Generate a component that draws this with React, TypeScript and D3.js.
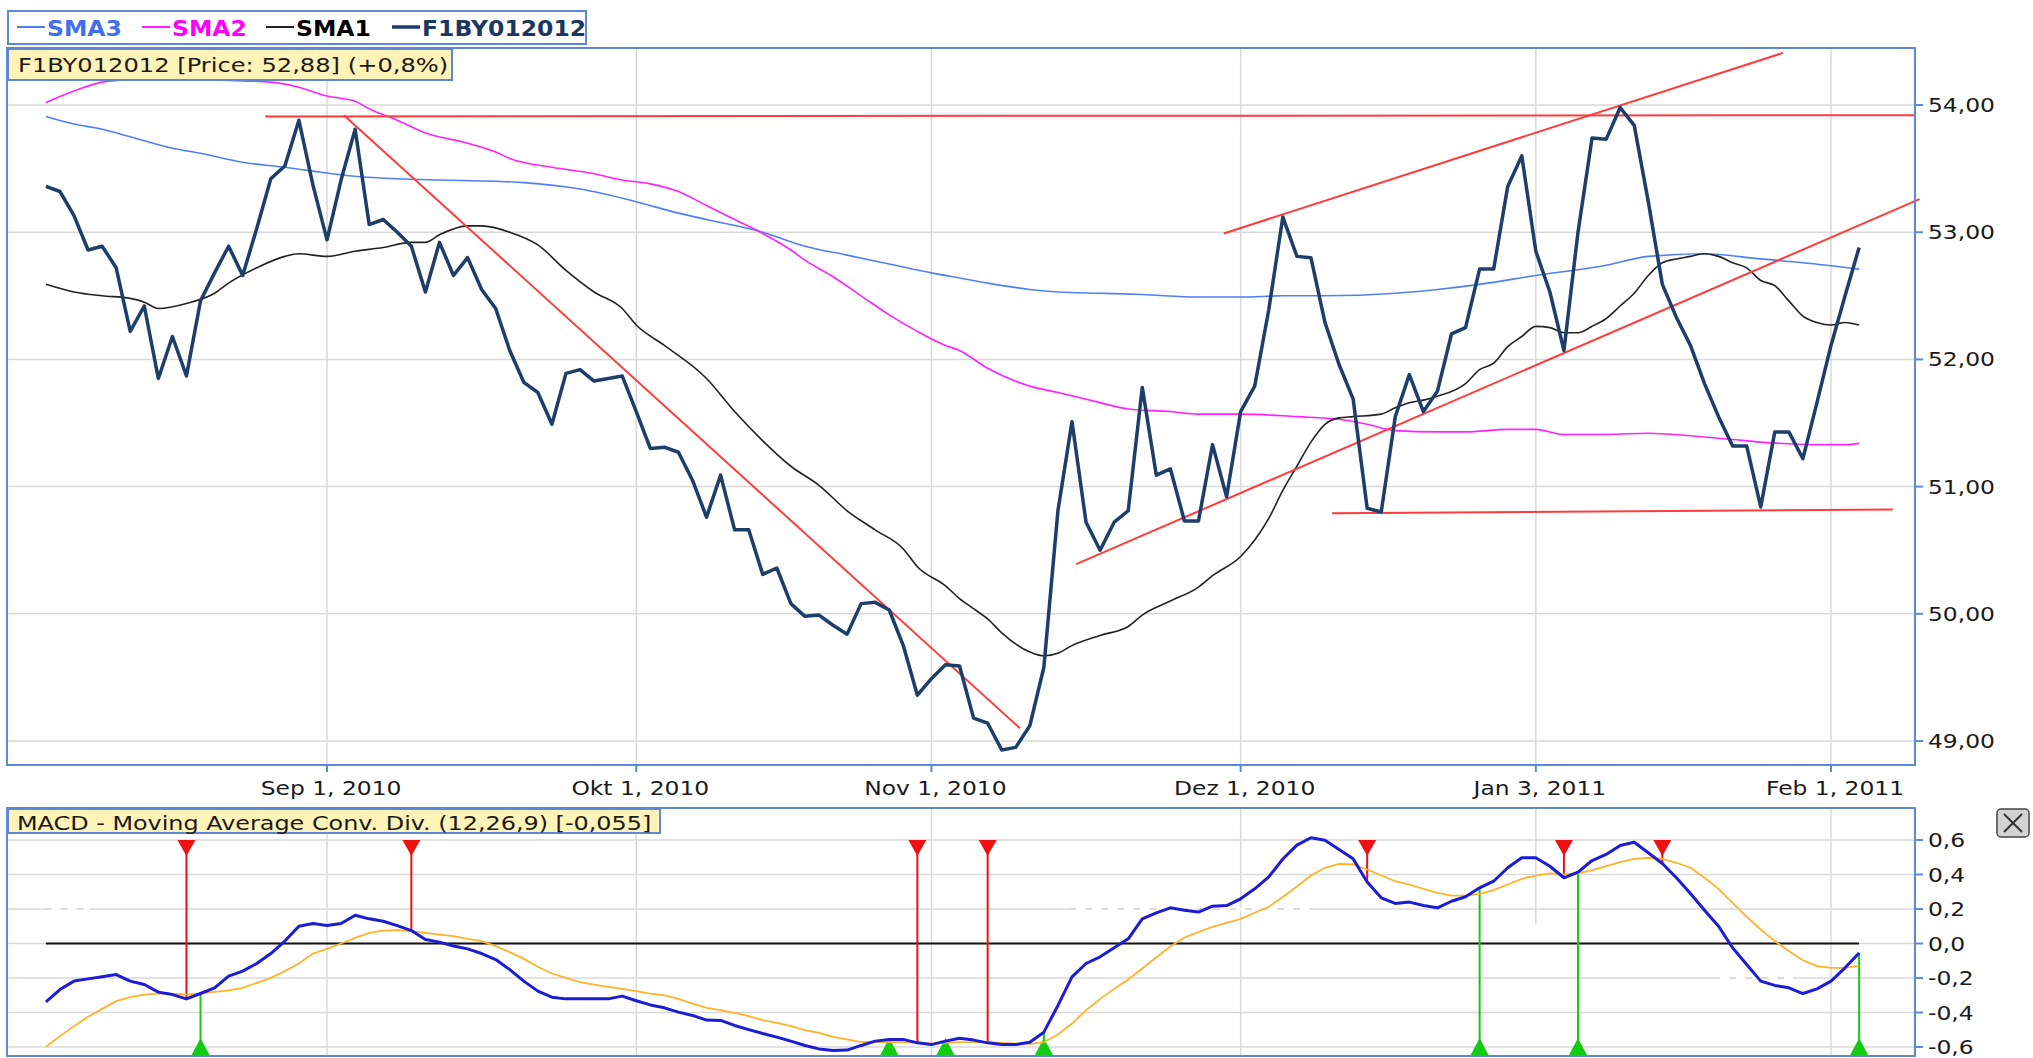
import React from 'react'
import * as d3 from 'd3'

// daily closes, one per trading day (index 0 = first day shown)
const price = [
  53.36, 53.32, 53.13, 52.86, 52.89, 52.72, 52.22, 52.42, 51.85, 52.18,
  51.87, 52.46, 52.68, 52.89, 52.66, 53.03, 53.42, 53.52, 53.88, 53.37,
  52.94, 53.41, 53.81, 53.06, 53.1, 53.0, 52.89, 52.53, 52.92, 52.66,
  52.8, 52.55, 52.4, 52.07, 51.82, 51.74, 51.49, 51.89, 51.92, 51.83,
  51.85, 51.87, 51.59, 51.3, 51.31, 51.27, 51.05, 50.76, 51.09, 50.66,
  50.66, 50.31, 50.36, 50.08, 49.98, 49.99, 49.91, 49.84, 50.08, 50.09,
  50.03, 49.75, 49.36, 49.49, 49.6, 49.59, 49.18, 49.14, 48.93, 48.95,
  49.12, 49.58, 50.81, 51.51, 50.72, 50.5, 50.72, 50.81, 51.78, 51.09,
  51.14, 50.73, 50.73, 51.33, 50.92, 51.59, 51.79, 52.39, 53.12, 52.81,
  52.8, 52.29, 51.96, 51.69, 50.83, 50.8, 51.55, 51.88, 51.59, 51.75,
  52.2, 52.25, 52.71, 52.71, 53.36, 53.6, 52.85, 52.53, 52.07, 53.0,
  53.74, 53.73, 53.98, 53.84, 53.24, 52.59, 52.33, 52.11, 51.81, 51.55,
  51.32, 51.32, 50.84, 51.43, 51.43, 51.22, 51.66, 52.11, 52.5, 52.88,
]

const sma1Days = [0, 2, 4, 6, 7, 8, 10, 12, 13, 15, 17, 18, 20, 22, 24, 26, 27, 28, 30, 31, 33, 35, 37, 39, 41, 42, 44, 47, 49, 51, 53, 55, 57, 59, 61, 62, 64, 65, 66, 67, 68, 70, 71, 72, 73, 75, 77, 78, 80, 82, 83, 85, 86, 87, 88, 89, 90, 91, 92, 93, 95, 96, 97, 98, 99, 101, 102, 103, 104, 105, 106, 107, 108, 109, 110, 111, 112, 113, 114, 115, 116, 117, 118, 119, 120, 121, 122, 123, 124, 125, 126, 127, 128, 129]
const sma1Vals = [52.59, 52.53, 52.5, 52.48, 52.45, 52.4, 52.44, 52.52, 52.6, 52.72, 52.81, 52.83, 52.81, 52.85, 52.88, 52.92, 52.92, 52.98, 53.05, 53.05, 53.0, 52.9, 52.7, 52.53, 52.4, 52.27, 52.11, 51.85, 51.59, 51.36, 51.16, 51.01, 50.81, 50.66, 50.51, 50.37, 50.22, 50.12, 50.04, 49.96, 49.85, 49.7, 49.67, 49.69, 49.75, 49.83, 49.9, 49.99, 50.1, 50.21, 50.3, 50.45, 50.58, 50.75, 50.97, 51.16, 51.35, 51.49, 51.54, 51.55, 51.57, 51.62, 51.66, 51.68, 51.71, 51.81, 51.92, 51.97, 52.1, 52.18, 52.26, 52.25, 52.21, 52.21, 52.26, 52.32, 52.42, 52.52, 52.66, 52.76, 52.79, 52.81, 52.83, 52.81, 52.76, 52.72, 52.62, 52.58, 52.46, 52.34, 52.29, 52.27, 52.29, 52.27]

const sma2Days = [0, 2, 4, 6, 9, 11, 14, 16, 18, 20, 22, 23, 25, 27, 30, 32, 33, 36, 39, 41, 43, 45, 47, 49, 51, 53, 54, 56, 58, 60, 62, 64, 65, 67, 70, 72, 75, 77, 80, 82, 85, 89, 92, 94, 96, 99, 101, 104, 106, 108, 111, 114, 117, 120, 122, 126, 128, 129]
const sma2Vals = [54.02, 54.11, 54.18, 54.2, 54.21, 54.2, 54.19, 54.18, 54.14, 54.07, 54.03, 53.97, 53.88, 53.78, 53.7, 53.63, 53.58, 53.51, 53.46, 53.41, 53.38, 53.32, 53.21, 53.1, 52.99, 52.86, 52.78, 52.65, 52.5, 52.35, 52.22, 52.11, 52.07, 51.93, 51.79, 51.74, 51.66, 51.61, 51.59, 51.57, 51.57, 51.55, 51.53, 51.49, 51.44, 51.43, 51.43, 51.45, 51.45, 51.41, 51.41, 51.42, 51.4, 51.37, 51.35, 51.33, 51.33, 51.34]

const sma3Days = [0, 2, 4, 6, 9, 11, 14, 17, 19, 22, 25, 28, 32, 34, 38, 42, 45, 47, 51, 54, 57, 60, 63, 65, 67, 70, 72, 75, 78, 82, 85, 88, 91, 96, 99, 102, 106, 111, 114, 118, 122, 125, 129]
const sma3Vals = [53.91, 53.85, 53.81, 53.75, 53.66, 53.62, 53.55, 53.51, 53.48, 53.44, 53.42, 53.41, 53.4, 53.39, 53.34, 53.24, 53.15, 53.1, 53.0, 52.89, 52.82, 52.75, 52.68, 52.64, 52.6, 52.55, 52.53, 52.52, 52.51, 52.49, 52.49, 52.5, 52.5, 52.52, 52.55, 52.59, 52.66, 52.74, 52.81, 52.83, 52.79, 52.76, 52.71]

const macd = [
  -0.338, -0.267, -0.218, -0.205, -0.193, -0.18, -0.218, -0.238, -0.282, -0.296,
  -0.321, -0.29, -0.257, -0.189, -0.16, -0.116, -0.058, 0.014, 0.1, 0.116,
  0.104, 0.116, 0.164, 0.143, 0.129, 0.104, 0.075, 0.023, 0.008, -0.015,
  -0.031, -0.058, -0.093, -0.151, -0.218, -0.276, -0.311, -0.321, -0.321, -0.321,
  -0.321, -0.305, -0.332, -0.356, -0.373, -0.398, -0.417, -0.444, -0.446, -0.475,
  -0.499, -0.522, -0.543, -0.566, -0.591, -0.611, -0.62, -0.618, -0.591, -0.566,
  -0.556, -0.556, -0.576, -0.586, -0.566, -0.549, -0.56, -0.576, -0.586, -0.586,
  -0.572, -0.514, -0.359, -0.193, -0.116, -0.077, -0.025, 0.027, 0.143, 0.178,
  0.207, 0.193, 0.182, 0.216, 0.22, 0.259, 0.317, 0.386, 0.49, 0.57,
  0.613, 0.599, 0.545, 0.491, 0.356, 0.265, 0.232, 0.24, 0.22, 0.207,
  0.245, 0.271, 0.323, 0.361, 0.439, 0.497, 0.497, 0.448, 0.381, 0.414,
  0.481, 0.516, 0.568, 0.587, 0.526, 0.464, 0.381, 0.29, 0.193, 0.1,
  -0.025, -0.122, -0.218, -0.243, -0.257, -0.29, -0.263, -0.218, -0.141, -0.055,
]

const signal = [
  -0.599, -0.537, -0.479, -0.425, -0.379, -0.334, -0.311, -0.296, -0.29, -0.29,
  -0.296, -0.29, -0.28, -0.272, -0.257, -0.228, -0.199, -0.16, -0.116, -0.058,
  -0.031, 0.0, 0.033, 0.062, 0.075, 0.077, 0.071, 0.062, 0.052, 0.043,
  0.027, 0.014, -0.015, -0.05, -0.089, -0.135, -0.174, -0.199, -0.224, -0.238,
  -0.251, -0.263, -0.276, -0.29, -0.301, -0.321, -0.348, -0.373, -0.386, -0.402,
  -0.421, -0.444, -0.46, -0.479, -0.502, -0.518, -0.541, -0.556, -0.572, -0.572,
  -0.572, -0.572, -0.576, -0.58, -0.576, -0.572, -0.572, -0.572, -0.576, -0.58,
  -0.582, -0.572, -0.528, -0.464, -0.386, -0.321, -0.263, -0.209, -0.145, -0.08,
  -0.018, 0.035, 0.066, 0.097, 0.12, 0.143, 0.178, 0.213, 0.27, 0.33,
  0.394, 0.439, 0.462, 0.458, 0.429, 0.394, 0.361, 0.342, 0.317, 0.294,
  0.278, 0.278, 0.288, 0.309, 0.342, 0.375, 0.394, 0.406, 0.4, 0.406,
  0.425, 0.448, 0.472, 0.491, 0.497, 0.491, 0.468, 0.439, 0.381, 0.317,
  0.236, 0.155, 0.081, 0.014, -0.044, -0.097, -0.131, -0.141, -0.141, -0.128,
]

// crossover markers (trading-day index)
const sellSignals = [10, 26, 62, 67, 94, 108, 115]
const buySignals = [11, 60, 64, 71, 102, 109, 129]

// drawn trend lines: [startDay, startPrice, endDay, endPrice]
const trendLines = [
  [15.6, 53.91, 133.0, 53.92],
  [21.2, 53.92, 69.3, 49.1],
  [73.3, 50.39, 133.3, 53.26],
  [83.8, 52.99, 123.6, 54.41],
  [91.5, 50.79, 131.4, 50.82],
]

const monthDays = [20, 42, 63, 85, 106, 127]
const monthLabels = ['Sep 1, 2010', 'Okt 1, 2010', 'Nov 1, 2010', 'Dez 1, 2010', 'Jan 3, 2011', 'Feb 1, 2011']
const priceTicks = [49, 50, 51, 52, 53, 54]
const macdTicks = [-0.6, -0.4, -0.2, 0, 0.2, 0.4, 0.6]
// dashed stretches on the macd grid: [fromDay, toDay, level]
const macdDashed = [
  [-0.1, 3.1, 0.2],
  [72.8, 90.2, 0.2],
  [118.6, 124.6, -0.2],
]

const legend = [
  { name: 'SMA3', color: '#4f7ff5', text: '#3f6ff0', w: 2 },
  { name: 'SMA2', color: '#ff22ff', text: '#ff00ff', w: 2 },
  { name: 'SMA1', color: '#222', text: '#000', w: 2 },
  { name: 'F1BY012012', color: '#1d3e6b', text: '#1a3764', w: 3.5 },
]

const W = 2033
const H = 1058
const main = { left: 7, right: 1915, top: 48, bottom: 765 }
const sub = { left: 7, right: 1915, top: 808, bottom: 1056 }
const frameBlue = '#5b89d8'
const gridGray = '#d9d9d9'

const comma = (v: number, d: number) => v.toFixed(d).replace('.', ',')

const Txt = ({ x, y, anchor = 'start', size = 19.5, k = 1.2, weight = 'normal', fill = '#1a1a1a', children }: any) => (
  <text
    transform={`translate(${x},${y}) scale(${k},1)`}
    textAnchor={anchor}
    fontFamily="DejaVu Sans"
    fontSize={size}
    fontWeight={weight}
    fill={fill}
  >
    {children}
  </text>
)

export default function App() {
  const x = d3.scaleLinear().domain([0, 129]).range([45.9, 45.9 + 14.056 * 129])
  const yP = d3.scaleLinear().domain([49, 54]).range([741, 105])
  const yM = d3.scaleLinear().domain([-0.6, 0.6]).range([1047, 840])

  const dayLine = d3.line<number>().x((_, i) => x(i)).y((d) => yP(d))
  const smaLine = (days: number[], vals: number[]) =>
    d3.line<number>().curve(d3.curveMonotoneX).x((d) => x(d)).y((_, i) => yP(vals[i]))(days) || ''
  const macdLine = d3.line<number>().x((_, i) => x(i)).y((d) => yM(d))

  const legendX = [17, 142, 266, 392]

  return (
    <svg width={W} height={H} style={{ position: 'absolute', left: 0, top: 0, background: '#fff' }}>
      {/* legend */}
      <rect x={8} y={11} width={578} height={33} fill="#fff" stroke={frameBlue} strokeWidth={2} />
      {legend.map((d, i) => (
        <g key={d.name}>
          <line x1={legendX[i]} x2={legendX[i] + 28} y1={27} y2={27} stroke={d.color} strokeWidth={d.w} />
          <Txt x={legendX[i] + 30} y={36} size={21} k={1.12} weight="bold" fill={d.text}>{d.name}</Txt>
        </g>
      ))}

      {/* main panel grid */}
      {priceTicks.map((t) => (
        <line key={t} x1={main.left} x2={main.right} y1={yP(t)} y2={yP(t)} stroke={gridGray} strokeWidth={1.5} />
      ))}
      {monthDays.map((d) => (
        <line key={d} x1={x(d)} x2={x(d)} y1={main.top} y2={main.bottom} stroke={gridGray} strokeWidth={1.5} />
      ))}

      {/* moving averages */}
      <path d={smaLine(sma3Days, sma3Vals)} fill="none" stroke="#4f7ff5" strokeWidth={1.6} />
      <path d={smaLine(sma2Days, sma2Vals)} fill="none" stroke="#ff22ff" strokeWidth={1.6} />
      <path d={smaLine(sma1Days, sma1Vals)} fill="none" stroke="#222" strokeWidth={1.6} />

      {/* trend lines */}
      {trendLines.map((t, i) => (
        <line key={i} x1={x(t[0])} y1={yP(t[1])} x2={x(t[2])} y2={yP(t[3])} stroke="#ff3b3b" strokeWidth={2} />
      ))}

      {/* price */}
      <path d={dayLine(price) || ''} fill="none" stroke="#1d3e6b" strokeWidth={3.5} strokeLinejoin="round" />

      {/* main frame + axes */}
      <rect x={main.left} y={main.top} width={main.right - main.left} height={main.bottom - main.top} fill="none" stroke={frameBlue} strokeWidth={2} />
      {priceTicks.map((t) => (
        <g key={t}>
          <line x1={main.right} x2={main.right + 8} y1={yP(t)} y2={yP(t)} stroke={frameBlue} strokeWidth={2} />
          <Txt x={main.right + 13} y={yP(t) + 7}>{comma(t, 2)}</Txt>
        </g>
      ))}
      {monthDays.map((d, i) => (
        <g key={d}>
          <line x1={x(d)} x2={x(d)} y1={main.bottom} y2={main.bottom + 7} stroke={frameBlue} strokeWidth={2} />
          <Txt x={x(d) + 4} y={795} anchor="middle">{monthLabels[i]}</Txt>
        </g>
      ))}
      <rect x={8} y={49} width={444} height={31} fill="#fff3b8" stroke={frameBlue} strokeWidth={2} />
      <Txt x={18} y={72} k={1.24}>F1BY012012 [Price: 52,88] (+0,8%)</Txt>

      {/* macd panel grid */}
      {macdTicks.map((t) => (
        <line key={t} x1={sub.left} x2={sub.right} y1={yM(t)} y2={yM(t)} stroke={gridGray} strokeWidth={1.5} />
      ))}
      {monthDays.map((d, i) => (
        <line key={d} x1={x(d)} x2={x(d)} y1={sub.top} y2={i === 4 ? yM(0.11) : sub.bottom} stroke={gridGray} strokeWidth={1.5} />
      ))}
      {macdDashed.map((s, i) => (
        <g key={i}>
          <line x1={x(s[0])} x2={x(s[1])} y1={yM(s[2])} y2={yM(s[2])} stroke="#fff" strokeWidth={2.5} />
          <line x1={x(s[0])} x2={x(s[1])} y1={yM(s[2])} y2={yM(s[2])} stroke="#cfcfcf" strokeWidth={1.5} strokeDasharray="7 9" />
        </g>
      ))}
      <line x1={x(0)} x2={x(129)} y1={yM(0)} y2={yM(0)} stroke="#111" strokeWidth={2} />

      {/* signal markers */}
      {sellSignals.map((d) => (
        <g key={'s' + d}>
          <line x1={x(d)} x2={x(d)} y1={yM(0.6)} y2={yM(macd[d])} stroke="#ee1111" strokeWidth={2} />
          <path d={`M${x(d) - 9},${yM(0.6)} L${x(d) + 9},${yM(0.6)} L${x(d)},${yM(0.6) + 16} Z`} fill="#ee1111" />
        </g>
      ))}
      {buySignals.map((d) => (
        <g key={'b' + d}>
          <line x1={x(d)} x2={x(d)} y1={sub.bottom} y2={yM(macd[d])} stroke="#11cc11" strokeWidth={2} />
          <path d={`M${x(d) - 9},${sub.bottom - 1} L${x(d) + 9},${sub.bottom - 1} L${x(d)},${sub.bottom - 18} Z`} fill="#11cc11" />
        </g>
      ))}

      <path d={macdLine(signal) || ''} fill="none" stroke="#ffb22a" strokeWidth={1.8} />
      <path d={macdLine(macd) || ''} fill="none" stroke="#1c1cd6" strokeWidth={3} strokeLinejoin="round" />

      {/* macd frame + axis */}
      <rect x={sub.left} y={sub.top} width={sub.right - sub.left} height={sub.bottom - sub.top} fill="none" stroke={frameBlue} strokeWidth={2} />
      {macdTicks.map((t) => (
        <g key={t}>
          <line x1={sub.right} x2={sub.right + 8} y1={yM(t)} y2={yM(t)} stroke={frameBlue} strokeWidth={2} />
          <Txt x={sub.right + 13} y={yM(t) + 7}>{comma(t, 1)}</Txt>
        </g>
      ))}
      <rect x={8} y={809} width={652} height={24} fill="#fff3b8" stroke={frameBlue} strokeWidth={2} />
      <Txt x={17} y={830} k={1.225}>MACD - Moving Average Conv. Div. (12,26,9) [-0,055]</Txt>

      {/* close box */}
      <rect x={1997} y={809} width={32} height={28} rx={4} fill="#d2d2d2" stroke="#444" strokeWidth={1.5} />
      <line x1={2004} y1={814} x2={2022} y2={832} stroke="#333" strokeWidth={2} />
      <line x1={2022} y1={814} x2={2004} y2={832} stroke="#333" strokeWidth={2} />
    </svg>
  )
}
